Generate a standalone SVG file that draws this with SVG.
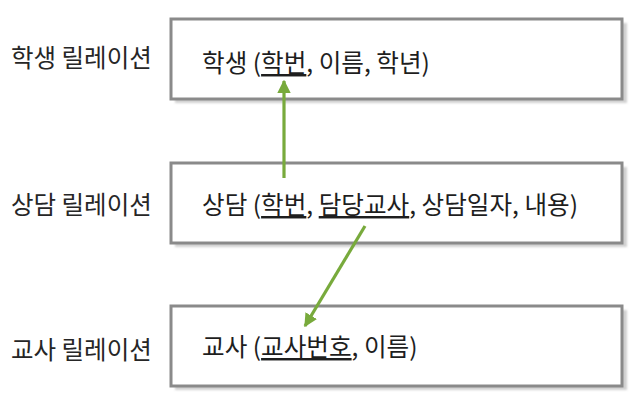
<svg xmlns="http://www.w3.org/2000/svg" width="643" height="403" viewBox="0 0 643 403">
<defs>
<style>
.lbl{font-family:"Noto Sans CJK KR","Noto Sans",sans-serif;font-size:24.5px;fill:#262626}
.txt{font-family:"Noto Sans CJK KR","Noto Sans",sans-serif;font-size:24.6px;fill:#1e1e1e}
.box{fill:#ffffff;stroke:#8a8a8a;stroke-width:3}
.shadow{fill:#d0d0d0}
.arrow{stroke:#78aa3c;stroke-width:3.2;fill:none}
</style>
<filter id="blur" x="-5%" y="-10%" width="110%" height="120%"><feGaussianBlur stdDeviation="1"/></filter>
<marker id="ah" viewBox="0 0 10 10" refX="9" refY="5" markerWidth="4.2" markerHeight="4.2" markerUnits="strokeWidth" orient="auto"><path d="M0,0 L10,5 L0,10 z" fill="#78aa3c"/></marker>
</defs>
<rect width="643" height="403" fill="#ffffff"/>
<g id="student">
<rect class="shadow" x="175" y="23" width="452" height="80" filter="url(#blur)"/>
<rect class="box" x="171" y="19" width="451" height="80"/>
<text class="txt" x="202" y="72">학생 (<tspan text-decoration="underline">학번</tspan>, 이름, 학년)</text>
</g>
<g id="counsel">
<rect class="shadow" x="175" y="167" width="452" height="80" filter="url(#blur)"/>
<rect class="box" x="171" y="163" width="451" height="80"/>
<text class="txt" x="202" y="214">상담 (<tspan text-decoration="underline">학번</tspan>, <tspan text-decoration="underline">담당교사</tspan>, 상담일자, 내용)</text>
</g>
<g id="teacher">
<rect class="shadow" x="175" y="310" width="452" height="80" filter="url(#blur)"/>
<rect class="box" x="171" y="306" width="451" height="80"/>
<text class="txt" x="202" y="356">교사 (<tspan text-decoration="underline">교사번호</tspan>, 이름)</text>
</g>
<g id="labels">
<text class="lbl" x="11" y="67">학생 릴레이션</text>
<text class="lbl" x="11" y="214">상담 릴레이션</text>
<text class="lbl" x="11" y="359">교사 릴레이션</text>
</g>
<g id="connectors">
<line class="arrow" x1="284" y1="178" x2="284" y2="81" marker-end="url(#ah)"/>
<line class="arrow" x1="365" y1="226" x2="305" y2="326" marker-end="url(#ah)"/>
</g>
</svg>
